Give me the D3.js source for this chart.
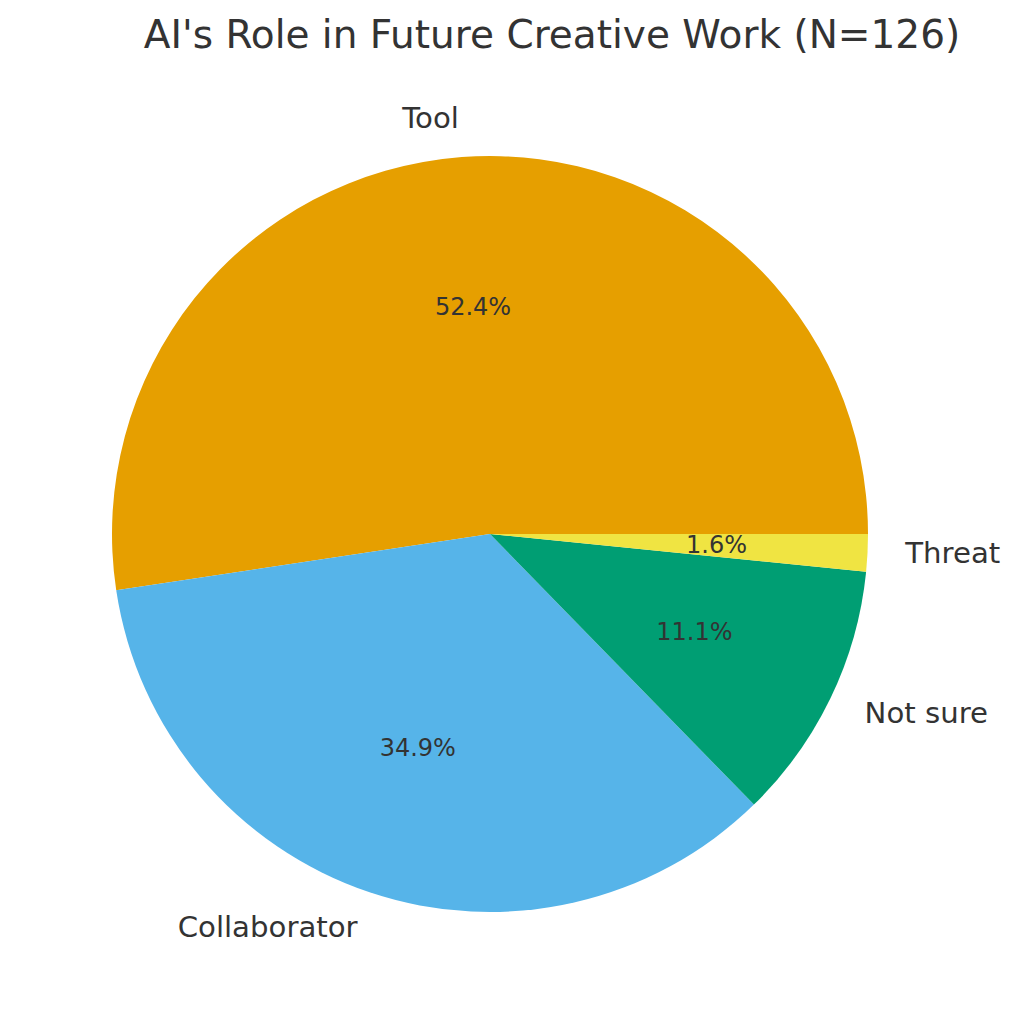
<!DOCTYPE html>
<html>
<head>
<meta charset="utf-8">
<script src="https://cdn.jsdelivr.net/npm/d3@7"></script>
<style>
  html, body { margin: 0; padding: 0; background: #ffffff; }
  svg { display: block; font-family: "DejaVu Sans", sans-serif; }
</style>
</head>
<body>
<svg id="chart" width="1018" height="1024"></svg>
<script>
const categories = ["Tool", "Collaborator", "Not sure", "Threat"];
const counts = [66, 44, 14, 2];
const colors = ["#E69F00", "#56B4E9", "#009E73", "#F0E442"];
const title = "AI's Role in Future Creative Work (N=126)";

const svg = d3.select("#chart");
const cx = 490, cy = 534, r = 378;
const textColor = "#333333";

svg.append("text")
  .attr("x", 552).attr("y", 48)
  .attr("text-anchor", "middle")
  .attr("font-size", 39)
  .attr("fill", textColor)
  .text(title);

const data = categories.map((c, i) => ({ label: c, value: counts[i], color: colors[i] }));
const total = d3.sum(counts);

// matplotlib-style: start at 3 o'clock, counter-clockwise
const pie = d3.pie().value(d => d.value).sort(null)
  .startAngle(Math.PI / 2).endAngle(Math.PI / 2 - 2 * Math.PI);
const arcs = pie(data);

const g = svg.append("g").attr("transform", `translate(${cx},${cy})`);
const arc = d3.arc().innerRadius(0).outerRadius(r);
const labelArc = d3.arc().innerRadius(r * 1.1).outerRadius(r * 1.1);
const pctArc = d3.arc().innerRadius(r * 0.6).outerRadius(r * 0.6);

g.selectAll("path.slice").data(arcs).join("path")
  .attr("class", "slice")
  .attr("d", arc)
  .attr("fill", d => d.data.color);

g.selectAll("text.pct").data(arcs).join("text")
  .attr("class", "pct")
  .attr("transform", d => `translate(${pctArc.centroid(d)})`)
  .attr("text-anchor", "middle")
  .attr("dy", "0.3em")
  .attr("font-size", 24)
  .attr("fill", textColor)
  .text(d => (d.data.value / total * 100).toFixed(1) + "%");

g.selectAll("text.lbl").data(arcs).join("text")
  .attr("class", "lbl")
  .attr("transform", d => `translate(${labelArc.centroid(d)})`)
  .attr("text-anchor", d => labelArc.centroid(d)[0] > 0 ? "start" : "end")
  .attr("dy", "0.3em")
  .attr("font-size", 29.2)
  .attr("fill", textColor)
  .text(d => d.data.label);
</script>
</body>
</html>
